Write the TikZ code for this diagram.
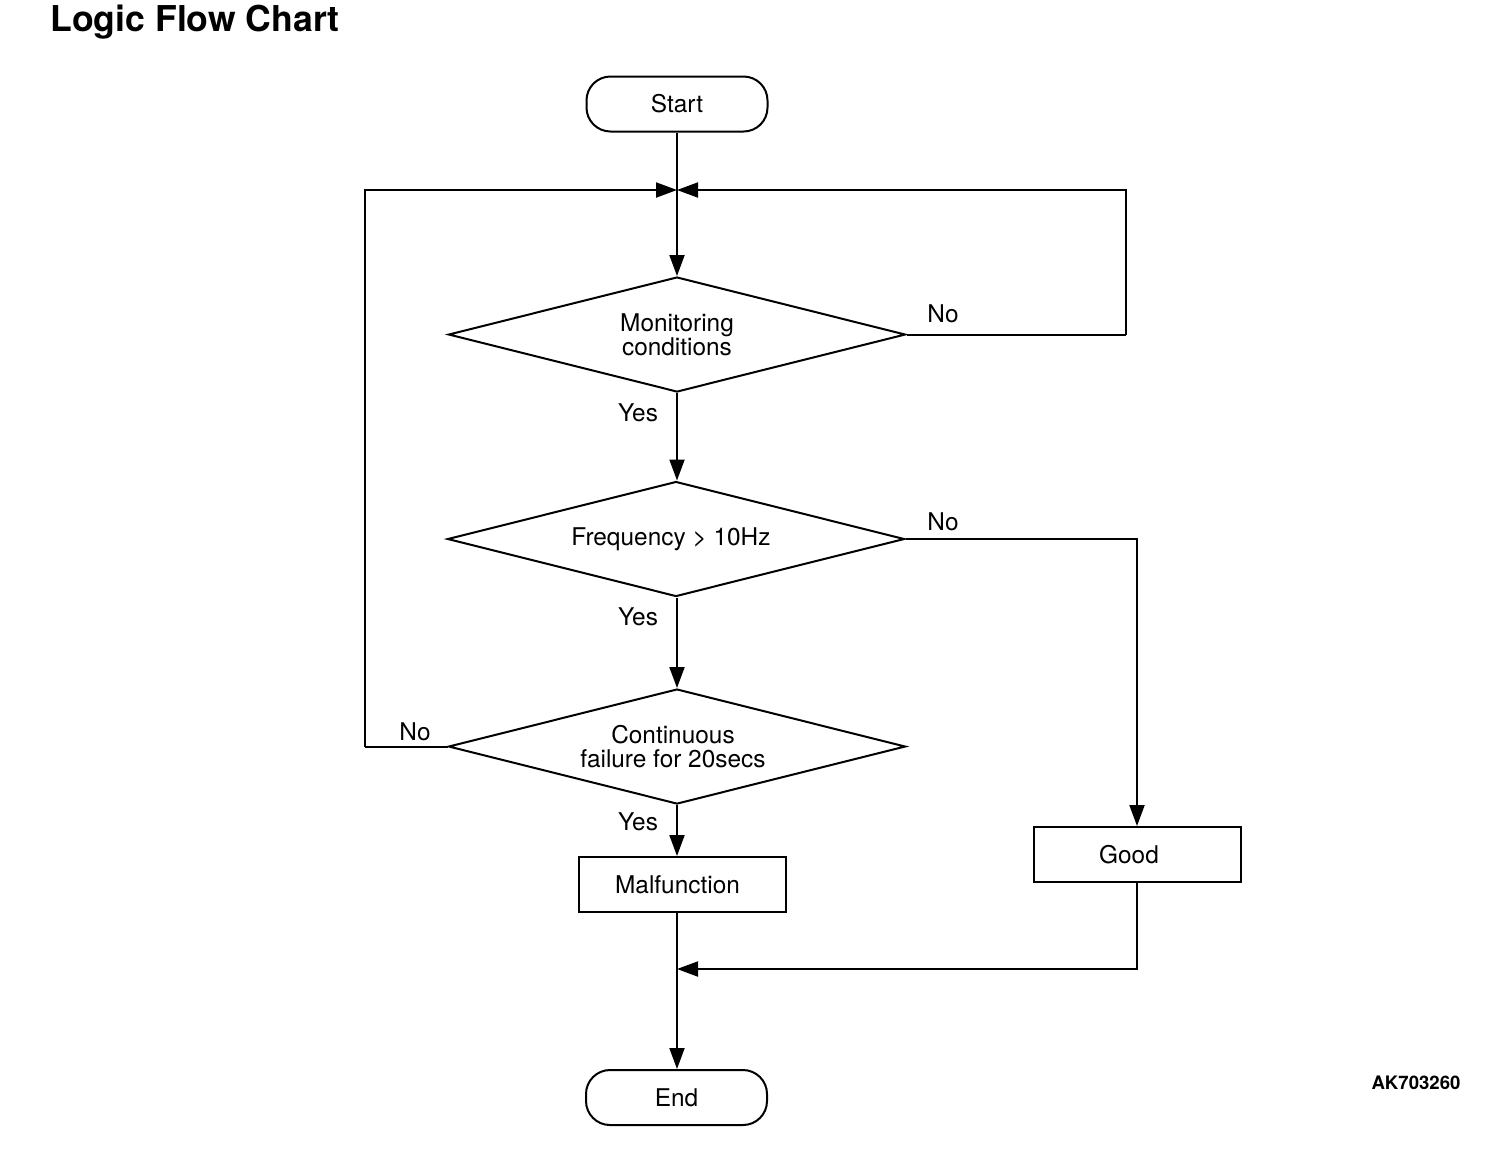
\documentclass[tikz,border=0pt]{standalone}
\usepackage{fontspec}
\setmainfont{TeX Gyre Heros}
\usetikzlibrary{shapes.geometric,arrows.meta}
\begin{document}
\begin{tikzpicture}[x=0.5pt,y=-0.5pt,
  every node/.style={font=\fontsize{12.2}{14}\selectfont},
  line/.style={line width=1pt},
  arr/.style={line width=1pt,-{Triangle[length=10.5pt,width=7.5pt]}},
  term/.style={draw,line width=1pt,rounded corners=12pt,minimum width=90.5pt,minimum height=27.5pt,inner sep=0pt},
  dec/.style={draw,line width=1pt,diamond,aspect=4,inner sep=0pt,minimum width=228.5pt,minimum height=57.5pt,align=center},
  proc/.style={draw,line width=1pt,minimum width=103.5pt,minimum height=27.5pt,inner sep=0pt},
  lbl/.style={inner sep=0pt}]
\useasboundingbox (0,0) rectangle (1504,1148);
\node[inner sep=0pt,font=\bfseries\fontsize{17.8}{20}\selectfont] (title) at (195,22) {Logic Flow Chart};
\node[inner sep=0pt,font=\bfseries\fontsize{9.3}{11}\selectfont] (code) at (1416,1083) {AK703260};

\node[term] (start) at (677,104) {Start};
\node[dec] (d1) at (677,334.5) {Monitoring\\[-2pt]conditions};
\node[dec] (d2) at (676,539) {\hspace*{-5pt}Frequency > 10Hz};
\node[dec] (d3) at (677,746.5) {\hspace*{-4pt}Continuous\\[-2pt]\hspace*{-4pt}failure for 20secs};
\node[proc] (mal) at (682.5,884.5) {\hspace*{-5pt}Malfunction};
\node[proc] (good) at (1137,854.5) {\hspace*{-8pt}Good};
\node[term] (end) at (676.5,1097.5) {End};

\coordinate (j) at (677,190);
\coordinate (m) at (677,969);
\coordinate (lc) at (365,746.5);
\coordinate (rc) at (1126,334.5);

\draw[line] (start.south) -- (j);
\draw[arr] (j) -- (d1.north);
\draw[arr] (d1.south) -- (d2.north -| d1.south);
\draw[arr] (d2.south -| d3.north) -- (d3.north);
\draw[arr] (d3.south) -- (d3.south |- mal.north);
\draw[line] (d1.east) -- (rc);
\draw[arr] (rc) |- (j);
\draw[line] (d3.west) -- (lc);
\draw[arr] (lc) |- (j);
\draw[arr] (d2.east) -| (good.north);
\draw[arr] (good.south) |- (m);
\draw[arr] (mal.south -| m) -- (end.north -| m);

\node[lbl] (n1) at (943,314) {No};
\node[lbl] (y1) at (638,413) {Yes};
\node[lbl] (n2) at (943,522) {No};
\node[lbl] (y2) at (638,617) {Yes};
\node[lbl] (n3) at (415,732) {No};
\node[lbl] (y3) at (638,822) {Yes};
\end{tikzpicture}
\end{document}
